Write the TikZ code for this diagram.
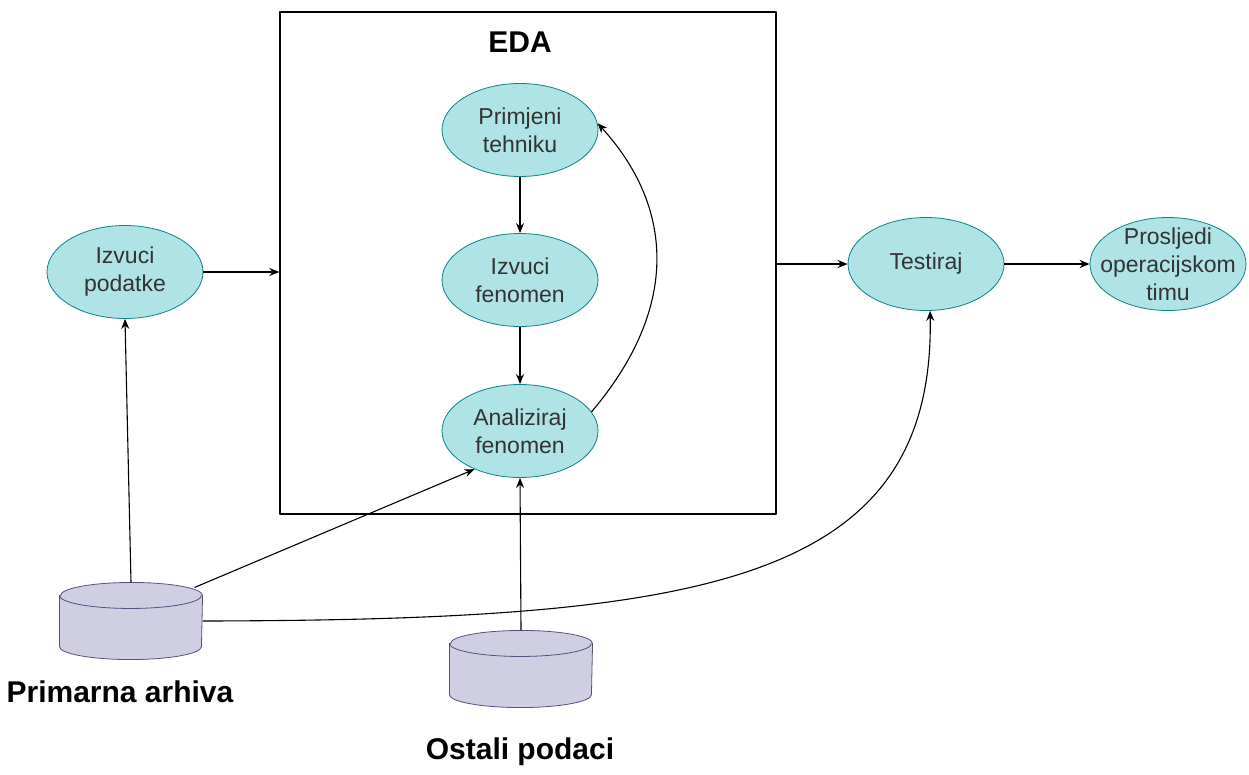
\documentclass[tikz,border=0pt]{standalone}
\usepackage{fontspec}
\setmainfont{Liberation Sans}
\usetikzlibrary{shapes.geometric,arrows.meta}
\definecolor{stepfill}{HTML}{B0E3E6}
\definecolor{stepline}{HTML}{0E8088}
\definecolor{dbfill}{HTML}{D0CEE2}
\definecolor{dbline}{HTML}{56517E}
\definecolor{steptext}{HTML}{333333}
\tikzset{
  stepnode/.style={ellipse,draw=stepline,fill=stepfill,line width=0.8pt,
    minimum width=156pt,minimum height=93pt,inner sep=0pt,align=center,
    text=steptext,font=\fontsize{23}{28}\selectfont},
  dbnode/.style={rectangle,minimum width=142pt,minimum height=76pt,inner sep=0pt},
  dbshape/.style={draw=dbline,fill=dbfill,line width=0.8pt},
  titletext/.style={font=\fontsize{30}{36}\selectfont\bfseries}
}
\newcommand\drawdb[1]{%
  \draw[dbshape] ([yshift=-13pt]#1.north west) -- ([yshift=13pt]#1.south west)
    arc[start angle=180,end angle=360,x radius=71pt,y radius=13pt]
    -- ([yshift=-13pt]#1.north east)
    arc[start angle=0,end angle=180,x radius=71pt,y radius=13pt] -- cycle;
  \draw[dbshape,fill=none] ([yshift=-13pt]#1.north west)
    arc[start angle=180,end angle=360,x radius=71pt,y radius=13pt];}
\begin{document}
\begin{tikzpicture}[x=1pt,y=-1pt,line width=1.1pt,line join=round,>={Stealth[length=10pt,width=8pt]}]
                \useasboundingbox (0,0) rectangle (1249,774);
                \node[draw,line width=1.4pt,minimum width=496pt,minimum height=502pt] (eda) at (528,263) {};
                \node[titletext] (edatitle) at (520,42) {EDA};
                \node[stepnode] (tehnika) at (520,130) {Primjeni\\tehniku};
                \node[stepnode] (fenomen) at (520,280) {Izvuci\\fenomen};
                \node[stepnode] (analiza) at (520,431) {Analiziraj\\fenomen};
                \node[stepnode] (podaci) at (125,272) {Izvuci\\podatke};
                \node[stepnode] (test) at (926,264) {Testiraj};
                \node[stepnode,inner xsep=-20pt,inner ysep=-14pt] (tim) at (1168,264) {Prosljedi\\operacijskom\\timu};
                \node[dbnode] (arhiva) at (131,621) {};
                \node[dbnode] (ostali) at (521,669) {};
                \drawdb{arhiva}
                \drawdb{ostali}
                \node[titletext] (arhivatxt) at (120,692) {Primarna arhiva};
                \node[titletext] (ostalitxt) at (520,752) {Ostali podaci};
                \draw[->] (tehnika) -- (fenomen);
                \draw[->] (fenomen) -- (analiza);
                \draw[->] (analiza.15) .. controls (682,305) and (672,205) .. (tehnika.5);
                \draw[->] (podaci) -- (eda.west |- podaci);
                \draw[->] (eda.east |- test) -- (test);
                \draw[->] (test) -- (tim);
                \draw[->] (arhiva.north) -- (podaci.south);
                \draw[->] ([shift={(-8pt,-5pt)}]arhiva.north east) -- (analiza.220);
                \draw[->] (arhiva.east) .. controls (700,620) and (935,585) .. (test.275);
                \draw[->] (ostali.north) -- (analiza.south);
              \end{tikzpicture}
\end{document}
